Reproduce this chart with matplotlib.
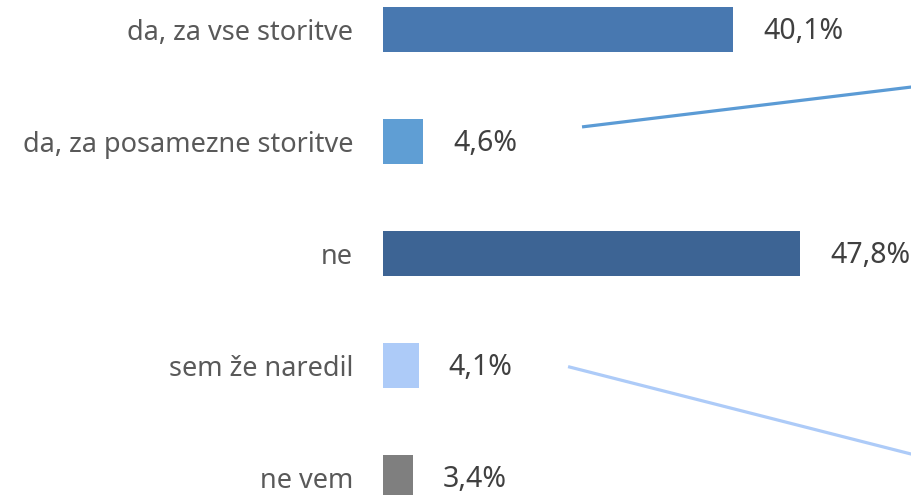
import matplotlib
matplotlib.use("Agg")
import matplotlib.pyplot as plt

plt.rcParams['font.family'] = ['Noto Sans', 'DejaVu Sans']

categories = ["da, za vse storitve", "da, za posamezne storitve", "ne",
              "sem že naredil", "ne vem"]
values = [40.1, 4.6, 47.8, 4.1, 3.4]
value_labels = ["40,1%", "4,6%", "47,8%", "4,1%", "3,4%"]
colors = ["#4878B0", "#5F9ED4", "#3D6494", "#ADCBF8", "#7F7F7F"]

fig = plt.figure(figsize=(9.12, 4.95), dpi=100)
ax = fig.add_axes([383 / 912, 0, 529 / 912, 1])

pos = list(range(len(categories)))
ax.barh(pos, values, height=0.4, color=colors)

ax.set_xlim(0, 60.6)
ax.set_ylim(4.156, -0.263)
ax.set_yticks(pos)
ax.set_yticklabels(categories, fontsize=19.5, color="#595959")
ax.tick_params(axis="y", length=0, pad=21.5)
ax.set_xticks([])
for s in ax.spines.values():
    s.set_visible(False)

for p, v, lab in zip(pos, values, value_labels):
    ax.annotate(lab, (v, p), xytext=(21.5, -1.5), textcoords="offset points",
                ha="left", va="center", fontsize=20.5, color="#404040")

# connector lines running out to the right-hand breakdown
ax.plot([22.8, 62.0], [0.87, 0.50], color="#5B9BD5", lw=2.3,
        solid_capstyle="butt", clip_on=False)
ax.plot([21.2, 62.0], [3.01, 3.82], color="#ADCBF8", lw=2.3,
        solid_capstyle="butt", clip_on=False)

fig.savefig("out.png", dpi=100)
